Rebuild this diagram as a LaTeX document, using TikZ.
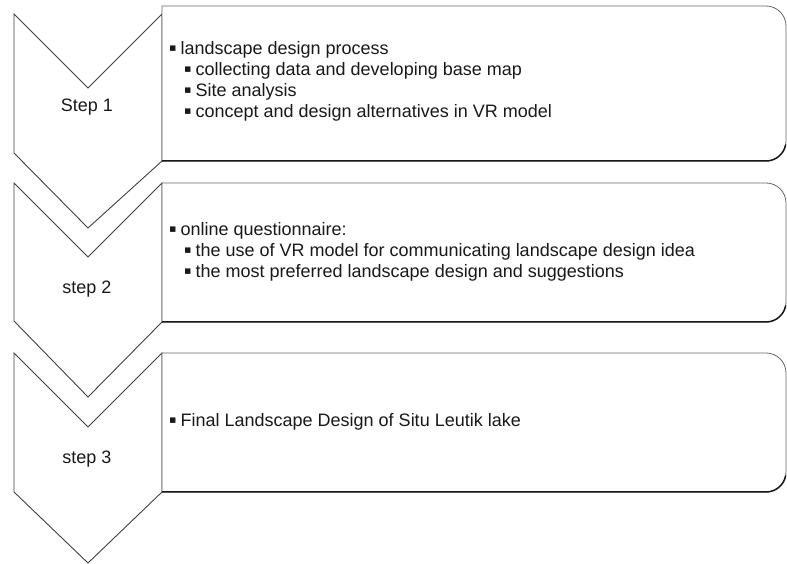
\documentclass[tikz,border=0pt]{standalone}
\usepackage{fontspec}
\setmainfont{Liberation Sans}
\newfontfamily\symfnt{DejaVu Sans}
\newcommand{\bul}{\raisebox{3.2pt}{\symfnt\fontsize{11}{11}\selectfont ▪}\hspace{4pt}}
\begin{document}
\begin{tikzpicture}[x=1pt,y=1pt,
  chev/.style={draw=black!75, line width=0.9pt, fill=white, line join=miter},
  box/.style={draw=black!60, line width=0.8pt, fill=white},
  boxshadow/.style={draw=black!90, line width=1.5pt},
  txt/.style={font=\fontsize{18}{21}\selectfont, anchor=west, inner sep=0pt, text=black!90},
  lbl/.style={font=\fontsize{18}{21}\selectfont, inner sep=0pt, text=black!90}]
\useasboundingbox (0,0) rectangle (787,564);
% chevrons
\draw[chev] (14,550) -- (88,476) -- (162,550) -- (162,403) -- (88,336) -- (14,411) -- cycle;
\draw[chev] (14,381) -- (88,307) -- (162,381) -- (162,242) -- (88,167) -- (14,243) -- cycle;
\draw[chev] (14,211) -- (88,137) -- (162,211) -- (162,72) -- (88,1) -- (14,72) -- cycle;
% boxes
\draw[box] (162,558) -- (766,558) arc[start angle=90,end angle=0,radius=20] -- (786,423) arc[start angle=0,end angle=-90,radius=20] -- (162,403) -- cycle;
\draw[boxshadow] (162,403) -- (766,403) arc[start angle=-90,end angle=-10,radius=20];
\draw[box] (162,381) -- (766,381) arc[start angle=90,end angle=0,radius=20] -- (786,262) arc[start angle=0,end angle=-90,radius=20] -- (162,242) -- cycle;
\draw[boxshadow] (162,242) -- (766,242) arc[start angle=-90,end angle=-10,radius=20];
\draw[box] (162,211) -- (766,211) arc[start angle=90,end angle=0,radius=20] -- (786,92) arc[start angle=0,end angle=-90,radius=20] -- (162,72) -- cycle;
\draw[boxshadow] (162,72) -- (766,72) arc[start angle=-90,end angle=-10,radius=20];
% step labels
\node[lbl] (s1) at (87,457) {Step 1};
\node[lbl] (s2) at (87,275) {step 2};
\node[lbl] (s3) at (87,105) {step 3};
% box 1 text
\node[txt] (a1) at (169,514) {\bul landscape design process};
\node[txt] (a2) at (184,493) {\bul collecting data and developing base map};
\node[txt] (a3) at (184,472) {\bul Site analysis};
\node[txt] (a4) at (184,451) {\bul concept and design alternatives in VR model};
% box 2 text
\node[txt] (b1) at (169,333) {\bul online questionnaire:};
\node[txt] (b2) at (184,312) {\bul the use of VR model for communicating landscape design idea};
\node[txt] (b3) at (184,291) {\bul the most preferred landscape design and suggestions};
% box 3 text
\node[txt] (c1) at (169,142) {\bul Final Landscape Design of Situ Leutik lake};
\end{tikzpicture}
\end{document}
